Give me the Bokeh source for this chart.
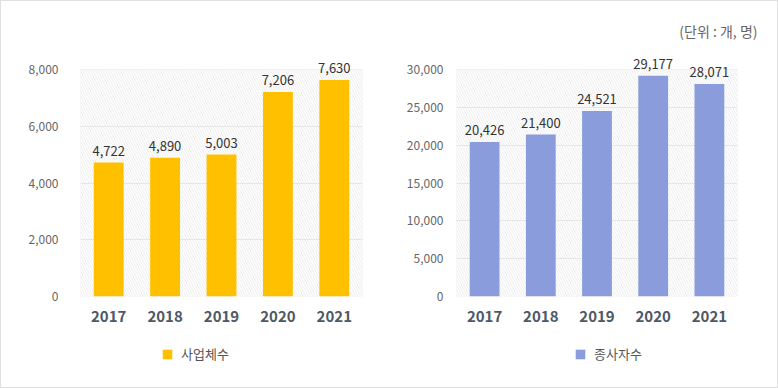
from bokeh.plotting import figure
from bokeh.layouts import row, column
from bokeh.models import (ColumnDataSource, NumeralTickFormatter, FixedTicker, LabelSet,
                          Legend, LegendItem, BoxAnnotation, Range1d, Title)
from bokeh.core.properties import value
from bokeh.embed import file_html
from bokeh.resources import INLINE

years = ["2017", "2018", "2019", "2020", "2021"]
businesses = [4722, 4890, 5003, 7206, 7630]
workers = [20426, 21400, 24521, 29177, 28071]
series1_name = "사업체수"
series2_name = "종사자수"
unit_text = "(단위 : 개, 명)"
ticks1 = [0, 2000, 4000, 6000, 8000]
ticks2 = [0, 5000, 10000, 15000, 20000, 25000, 30000]

FONT = "Noto Sans CJK KR"
FH = 227   # visible frame height
EXT = 20   # extra frame space above the top tick so value labels are not clipped
MAIN_H = 339
LEG_H = 47


def make_chart(values, ymax, ticks, color, left_border, frame_w, right_border, standoff):
    src = ColumnDataSource(dict(x=years, y=values, lbl=[f"{v:,}" for v in values]))
    top_border = 68 - EXT
    p = figure(x_range=years, y_range=Range1d(0, ymax * (FH + EXT) / FH),
               frame_width=frame_w, frame_height=FH + EXT,
               min_border_left=left_border, min_border_right=right_border,
               min_border_top=top_border, min_border_bottom=MAIN_H - top_border - FH - EXT,
               output_backend="svg", toolbar_location=None, tools="")
    p.background_fill_color = "white"
    p.border_fill_color = "white"
    p.outline_line_color = None

    box = BoxAnnotation(bottom=0, top=ymax, fill_color="white", fill_alpha=1,
                        line_color="#d6d6d6", line_width=1,
                        hatch_pattern="\\", hatch_color="#ededed", hatch_scale=5,
                        hatch_weight=1, level="image")
    p.add_layout(box)

    p.vbar(x="x", top="y", width=0.53, source=src, fill_color=color, line_color=None)

    labels = LabelSet(x="x", y="y", text="lbl", source=src, text_align="center",
                      text_baseline="alphabetic", y_offset=7, text_font=value(FONT),
                      text_font_size=value("13px"), text_color="#333333", level="overlay")
    p.add_layout(labels)

    p.xgrid.grid_line_color = None
    p.ygrid.grid_line_color = "#e6e6e6"
    p.ygrid.ticker = FixedTicker(ticks=ticks[1:-1])

    p.yaxis.ticker = FixedTicker(ticks=ticks)
    p.yaxis.formatter = NumeralTickFormatter(format="0,0")
    p.yaxis.axis_line_color = None
    p.yaxis.major_tick_line_color = None
    p.yaxis.minor_tick_line_color = None
    p.yaxis.major_tick_out = 0
    p.yaxis.major_label_standoff = standoff
    p.yaxis.major_label_text_font = FONT
    p.yaxis.major_label_text_font_size = "12px"
    p.yaxis.major_label_text_color = "#666666"

    p.xaxis.axis_line_color = None
    p.xaxis.major_tick_line_color = None
    p.xaxis.major_tick_out = 0
    p.xaxis.major_label_standoff = 14
    p.xaxis.major_label_text_font = FONT
    p.xaxis.major_label_text_font_size = "15px"
    p.xaxis.major_label_text_font_style = "bold"
    p.xaxis.major_label_text_color = "#4d5966"
    return p


def make_legend(width, values, color, name, legend_x):
    lp = figure(width=width, height=LEG_H, x_range=years, y_range=Range1d(0, 1),
                x_axis_type=None, y_axis_type=None, min_border=0,
                output_backend="svg", toolbar_location=None, tools="")
    lp.outline_line_color = None
    lp.grid.grid_line_color = None
    lp.background_fill_color = "white"
    lp.border_fill_color = "white"
    # legend-only renderer (hidden), carries the series colour for the legend swatch
    r = lp.vbar(x=years, top=values, width=0.53, fill_color=color, line_color=None,
                visible=False)
    legend = Legend(items=[LegendItem(label=name, renderers=[r])], location=(legend_x, 24),
                    glyph_width=12, glyph_height=12, label_height=14, label_standoff=8,
                    padding=0, margin=0, border_line_color=None, background_fill_alpha=0,
                    inactive_fill_alpha=0,
                    label_text_font=FONT, label_text_font_size="13px",
                    label_text_color="#555555")
    lp.add_layout(legend)
    return lp


p1 = make_chart(businesses, 8000, ticks1, "#FFC000", 79, 282, 28, 22)
p2 = make_chart(workers, 30000, ticks2, "#8A9CDB", 66, 281, 40, 13)

unit = Title(text=unit_text, align="right", offset=-20, standoff=17, text_font=FONT,
             text_font_size="14px", text_font_style="normal", text_color="#666666")
p2.add_layout(unit, "above")

l1 = make_legend(389, businesses, "#FFC000", series1_name, 160)
l2 = make_legend(387, workers, "#8A9CDB", series2_name, 184)

layout = column(row(p1, p2, spacing=0), row(l1, l2, spacing=0), spacing=0,
                styles={"border": "1px solid #e0e0e0"})
open("out.html", "w").write(file_html(layout, INLINE))
